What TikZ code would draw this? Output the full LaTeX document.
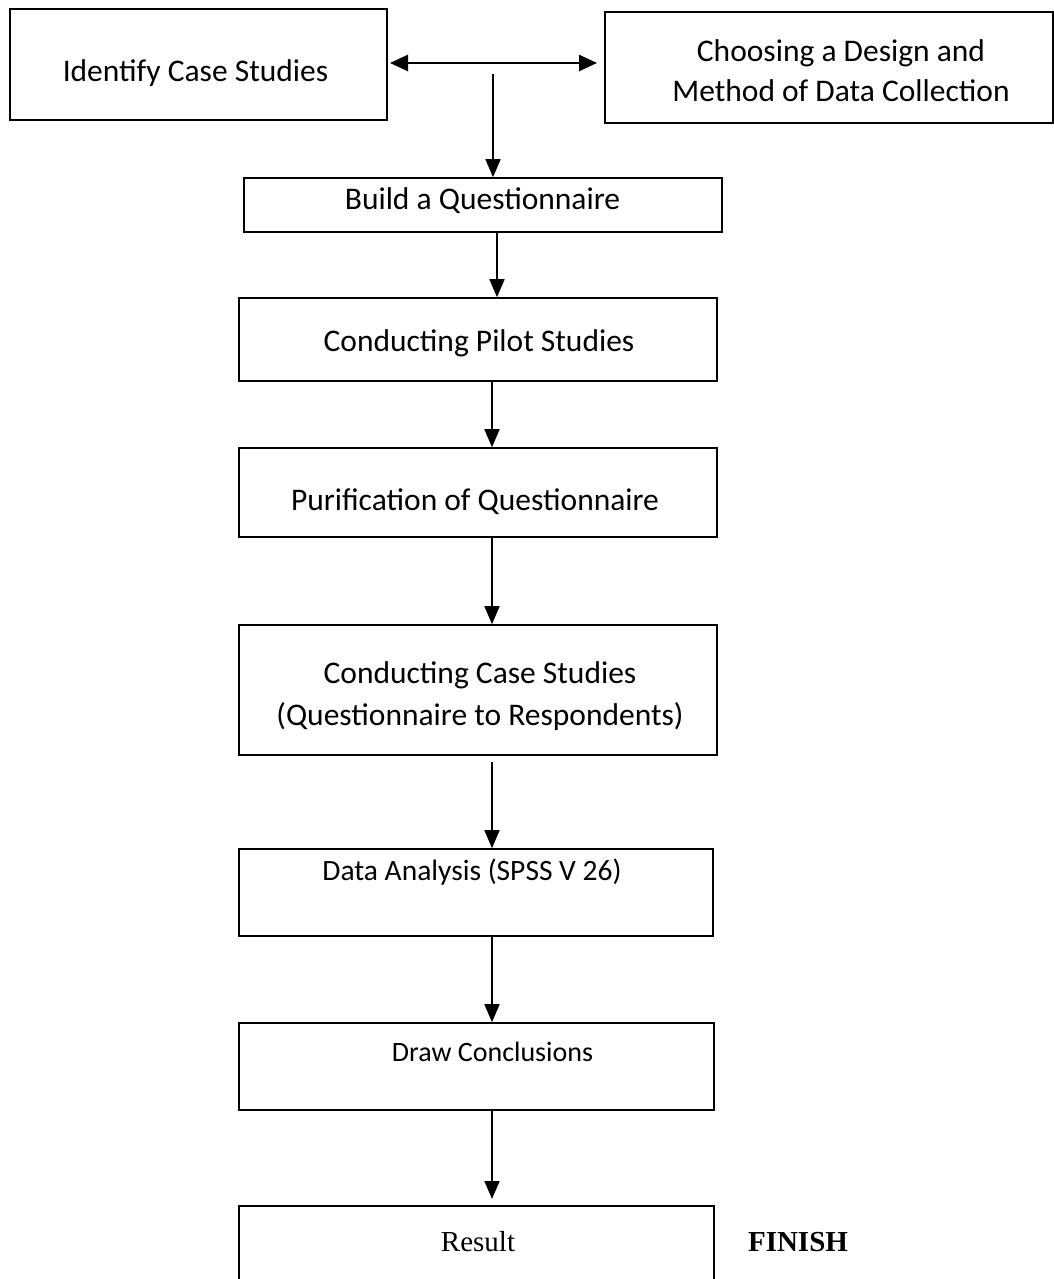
\documentclass[tikz,border=0pt]{standalone}
\usepackage{fontspec}
\setmainfont{Carlito}
\newfontfamily\timesfont{Liberation Serif}
\usetikzlibrary{arrows.meta,calc}
\begin{document}
\begin{tikzpicture}[x=1pt,y=-1pt,
  box/.style={draw,line width=1.6pt,rectangle,inner sep=0pt},
  txt/.style={anchor=base,inner sep=0pt,font=\fontsize{31.5}{38}\selectfont},
  stxt/.style={anchor=base,inner sep=0pt,font=\fontsize{29.5}{36}\selectfont},
  ttxt/.style={anchor=base,inner sep=0pt,font=\timesfont\fontsize{29}{34}\selectfont},
  arr/.style={line width=1.6pt,-{Triangle[length=18pt,width=15pt]}},
  darr/.style={line width=2.6pt,{Triangle[length=18pt,width=16pt]}-{Triangle[length=18pt,width=16pt]}}]
\useasboundingbox (0,0) rectangle (1054,1279);
\clip (0,0) rectangle (1054,1279);
% boxes
\node[box,minimum width=377pt,minimum height=111pt] (b1) at (198.5,64.5) {};
\node[box,minimum width=448pt,minimum height=111pt] (b2) at (829,67.5) {};
\node[box,minimum width=478pt,minimum height=54pt] (b3) at (483,205) {};
\node[box,minimum width=478pt,minimum height=83pt] (b4) at (478,339.5) {};
\node[box,minimum width=478pt,minimum height=89pt] (b5) at (478,492.5) {};
\node[box,minimum width=478pt,minimum height=130pt] (b6) at (478,690) {};
\node[box,minimum width=474pt,minimum height=87pt] (b7) at (476,892.5) {};
\node[box,minimum width=475pt,minimum height=87pt] (b8) at (476.5,1066.5) {};
\node[box,minimum width=475pt,minimum height=100pt] (b9) at (476.5,1256) {};
% texts
\node[txt] (t1) at (195.5,82) {Identify Case Studies};
\node[txt] (t2a) at (841,61.5) {Choosing a Design and};
\node[txt] (t2b) at (841,101.5) {Method of Data Collection};
\node[txt] (t3) at (482.5,209) {Build a Questionnaire};
\node[txt] (t4) at (479,351.5) {Conducting Pilot Studies};
\node[txt] (t5) at (475,510) {Purification of Questionnaire};
\node[txt] (t6a) at (480,683) {Conducting Case Studies};
\node[txt] (t6b) at (480,725) {(Questionnaire to Respondents)};
\node[stxt] (t7) at (472,880) {Data Analysis (SPSS V 26)};
\node[txt,font=\fontsize{28}{34}\selectfont] (t8) at (492.5,1061) {Draw Conclusions};
\node[ttxt] (t9) at (478,1251.5) {Result};
\node[ttxt,font=\timesfont\bfseries\fontsize{29}{34}\selectfont] (fin) at (798,1251.5) {FINISH};
% connectors
\coordinate (l) at (390,63);
\coordinate (r) at (597,63);
\draw[darr] (l) -- (r);
\coordinate (j) at (493,74);
\draw[arr] (j) -- (493,0|-b3.north);
\draw[arr] (497,0|-b3.south) -- (497,0|-b4.north);
\draw[arr] (492,0|-b4.south) -- (492,0|-b5.north);
\draw[arr] (492,0|-b5.south) -- (492,0|-b6.north);
\coordinate (s6) at (492,762);
\draw[arr] (s6) -- (492,0|-b7.north);
\draw[arr] (492,0|-b7.south) -- (492,0|-b8.north);
\coordinate (e9) at (492,1199);
\draw[arr] (492,0|-b8.south) -- (e9);
\end{tikzpicture}
\end{document}
